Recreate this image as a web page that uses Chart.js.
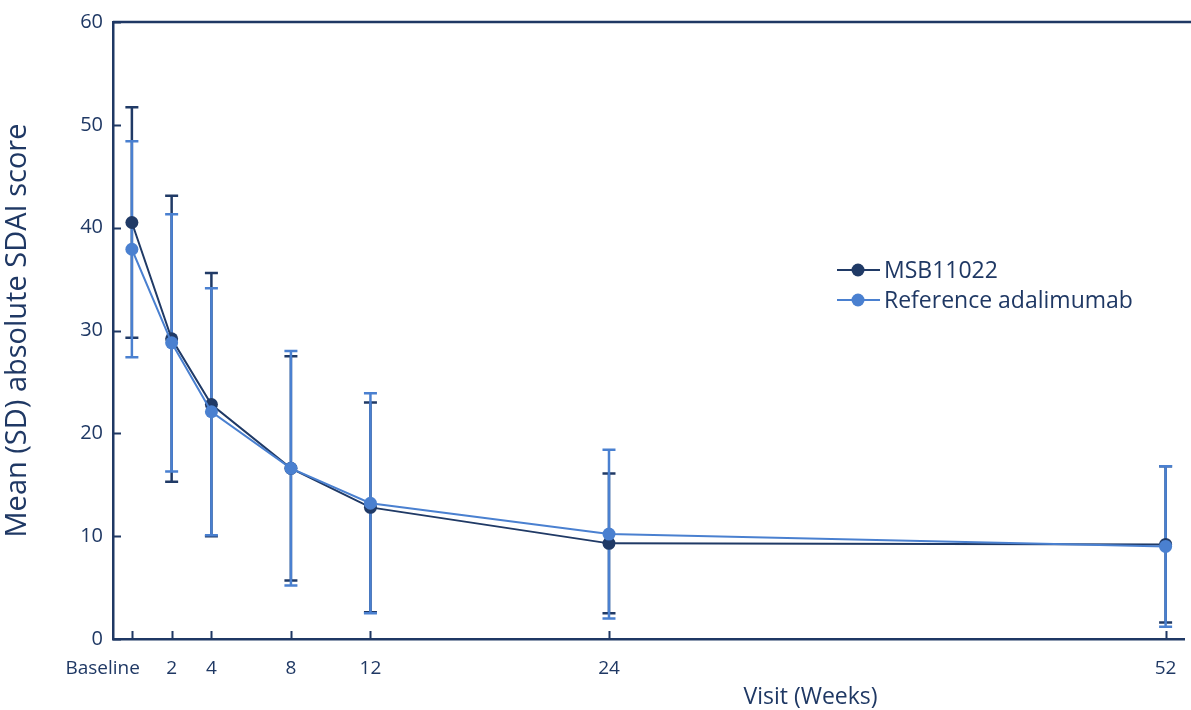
<!DOCTYPE html>
<html lang="en">
<head>
    <meta charset="UTF-8">
    <title>Mean (SD) absolute SDAI score by visit</title>
    <script src="https://cdn.jsdelivr.net/npm/chart.js"></script>
    <style>
        body {
            margin: 0;
            padding: 0;
            background: #ffffff;
        }

        .chart-box {
            position: relative;
            width: 1191px;
            height: 710px;
        }
    </style>
</head>
<body>
    <div class="chart-box">
        <canvas id="sdaiChart"></canvas>
    </div>

    <script>
        // Data
        const weeks = [0, 2, 4, 8, 12, 24, 52];
        const weekLabels = ['Baseline', '2', '4', '8', '12', '24', '52'];
        const msbMean = [40.5, 29.2, 22.8, 16.6, 12.8, 9.3, 9.2];
        const msbSD = [11.2, 13.9, 12.8, 10.9, 10.2, 6.8, 7.6];
        const refMean = [37.9, 28.8, 22.1, 16.6, 13.2, 10.2, 9.0];
        const refSD = [10.5, 12.5, 12.0, 11.4, 10.7, 8.2, 7.8];
        const yTicks = [0, 10, 20, 30, 40, 50, 60];

        const navy = '#1f3864';
        const darkBlue = '#203a66';
        const lightBlue = '#4a80d0';
        const fontFamily = "'Open Sans', sans-serif";

        Chart.defaults.font.family = fontFamily;
        Chart.defaults.color = navy;

        // error bars (mean +/- SD), drawn under the lines
        const errorBars = {
            id: 'errorBars',
            beforeDatasetsDraw(chart) {
                const ctx = chart.ctx;
                const x = chart.scales.x;
                const y = chart.scales.y;
                [1, 0].forEach(i => {
                    const ds = chart.data.datasets[i];
                    ctx.save();
                    ctx.strokeStyle = ds.borderColor;
                    ctx.lineWidth = 2.5;
                    ds.data.forEach((p, k) => {
                        const px = x.getPixelForValue(p.x);
                        const top = y.getPixelForValue(p.y + ds.sd[k]);
                        const bot = y.getPixelForValue(p.y - ds.sd[k]);
                        ctx.beginPath();
                        ctx.moveTo(px, top);
                        ctx.lineTo(px, bot);
                        ctx.moveTo(px - 6.5, top);
                        ctx.lineTo(px + 6.5, top);
                        ctx.moveTo(px - 6.5, bot);
                        ctx.lineTo(px + 6.5, bot);
                        ctx.stroke();
                    });
                    ctx.restore();
                });
            }
        };

        // frame top line, inward tick marks, x labels, x title and legend
        const decorations = {
            id: 'decorations',
            afterDraw(chart) {
                const ctx = chart.ctx;
                const area = chart.chartArea;
                const x = chart.scales.x;
                const y = chart.scales.y;
                ctx.save();
                ctx.strokeStyle = navy;
                ctx.lineWidth = 2.5;
                ctx.beginPath();
                ctx.moveTo(area.left, area.top);
                ctx.lineTo(chart.width, area.top);
                ctx.stroke();

                ctx.lineWidth = 2;
                ctx.beginPath();
                weeks.forEach(w => {
                    const px = Math.round(x.getPixelForValue(w)) + 0.5;
                    ctx.moveTo(px, area.bottom);
                    ctx.lineTo(px, area.bottom - 8);
                });
                yTicks.forEach(v => {
                    const py = Math.round(y.getPixelForValue(v)) + 0.5;
                    ctx.moveTo(area.left, py);
                    ctx.lineTo(area.left + 8, py);
                });
                ctx.stroke();

                // x tick labels; "Baseline" is pushed left of its tick
                ctx.fillStyle = navy;
                ctx.textBaseline = 'middle';
                ctx.font = '19px ' + fontFamily;
                weeks.forEach((w, i) => {
                    const px = x.getPixelForValue(w);
                    if (i === 0) {
                        ctx.textAlign = 'right';
                        ctx.fillText(weekLabels[i], px + 8, 669);
                    } else {
                        ctx.textAlign = 'center';
                        ctx.fillText(weekLabels[i], px, 669);
                    }
                });

                // x axis title sits right of centre in the original
                ctx.font = '23px ' + fontFamily;
                ctx.textAlign = 'center';
                ctx.fillText('Visit (Weeks)', area.left + (area.right - area.left) * 0.651, 697);

                // legend
                ctx.textAlign = 'left';
                ctx.font = '23px ' + fontFamily;
                chart.data.datasets.slice().reverse().forEach((ds, i) => {
                    const ly = 270 + i * 30;
                    ctx.strokeStyle = ds.borderColor;
                    ctx.lineWidth = 2;
                    ctx.beginPath();
                    ctx.moveTo(837, ly);
                    ctx.lineTo(880, ly);
                    ctx.stroke();
                    ctx.fillStyle = ds.borderColor;
                    ctx.beginPath();
                    ctx.arc(858, ly, 6.5, 0, Math.PI * 2);
                    ctx.fill();
                    ctx.fillStyle = navy;
                    ctx.fillText(ds.label, 884, ly + 1);
                });
                ctx.restore();
            }
        };

        const ctx = document.getElementById('sdaiChart').getContext('2d');
        new Chart(ctx, {
            type: 'line',
            data: {
                datasets: [{
                    label: 'Reference adalimumab',
                    data: weeks.map((w, i) => ({ x: w, y: refMean[i] })),
                    sd: refSD,
                    borderColor: lightBlue,
                    backgroundColor: lightBlue,
                    borderWidth: 2,
                    pointRadius: 6.5,
                    pointBorderWidth: 0,
                    order: 0
                }, {
                    label: 'MSB11022',
                    data: weeks.map((w, i) => ({ x: w, y: msbMean[i] })),
                    sd: msbSD,
                    borderColor: darkBlue,
                    backgroundColor: darkBlue,
                    borderWidth: 2,
                    pointRadius: 6.5,
                    pointBorderWidth: 0,
                    order: 1
                }]
            },
            options: {
                responsive: true,
                maintainAspectRatio: false,
                animation: false,
                layout: {
                    padding: { top: 22, right: 0, bottom: 0, left: 0 }
                },
                plugins: {
                    legend: { display: false },
                    tooltip: { enabled: false }
                },
                scales: {
                    x: {
                        type: 'linear',
                        min: -0.95,
                        max: 52.95,
                        afterBuildTicks: scale => {
                            scale.ticks = weeks.map(w => ({ value: w }));
                        },
                        afterFit: scale => {
                            scale.height = 71;
                        },
                        grid: { display: false, drawTicks: false },
                        border: { display: true, color: navy, width: 2.5 },
                        ticks: { display: false }
                    },
                    y: {
                        min: 0,
                        max: 60,
                        afterFit: scale => {
                            scale.width = 113;
                        },
                        grid: { display: false, drawTicks: false },
                        border: { display: true, color: navy, width: 2.5 },
                        ticks: {
                            stepSize: 10,
                            padding: 10,
                            color: navy,
                            font: { size: 20 }
                        },
                        title: {
                            display: true,
                            text: 'Mean (SD) absolute SDAI score',
                            color: navy,
                            font: { size: 29 },
                            padding: { top: 0, bottom: 0 }
                        }
                    }
                }
            },
            plugins: [errorBars, decorations]
        });
    </script>
</body>
</html>
